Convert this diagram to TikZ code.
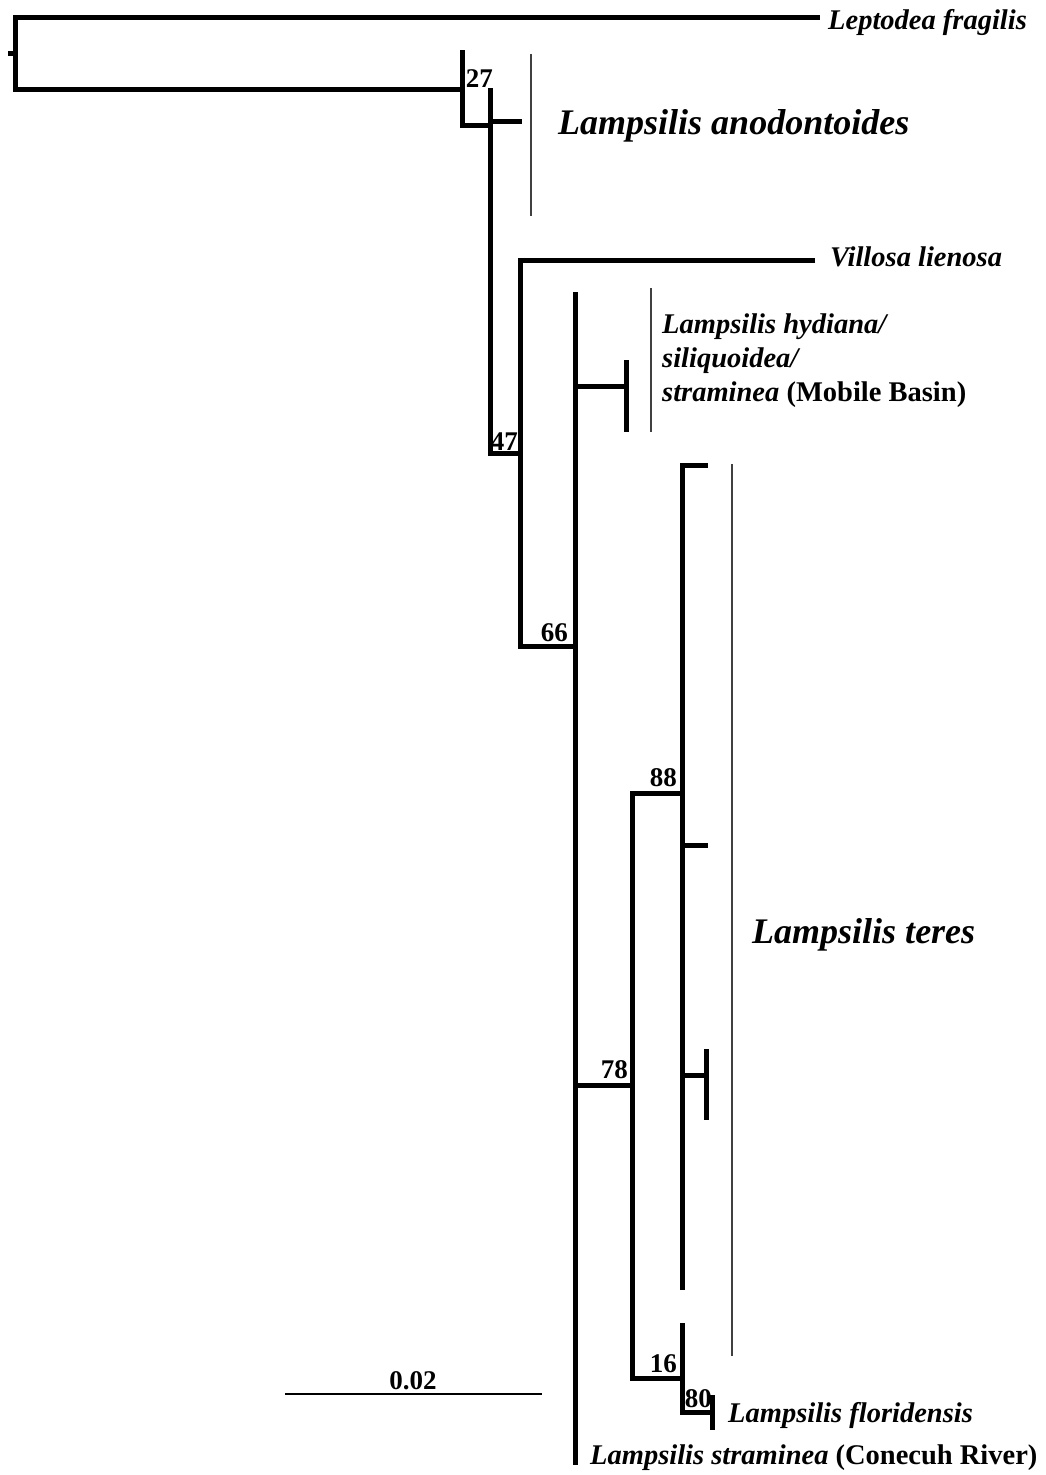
\documentclass[tikz,border=0pt]{standalone}
\usepackage{fontspec}
\setmainfont{Liberation Serif}
\usetikzlibrary{positioning}
\tikzset{
  br/.style={line width=5pt},
  clade/.style={line width=1.6pt, black!75},
  taxon/.style={anchor=west, inner sep=0pt, font=\fontsize{28.5}{34}\selectfont\bfseries},
  group/.style={anchor=west, inner sep=0pt, font=\fontsize{36}{40}\selectfont\bfseries\itshape},
  boot/.style={anchor=south east, inner sep=0pt, font=\fontsize{27}{30}\selectfont\bfseries},
}
\begin{document}
\begin{tikzpicture}[x=1pt,y=-1pt]
\useasboundingbox (0,0) rectangle (1045,1475);
% outgroup and base of tree
\draw[br] (8,53) -- (15,53);
\draw[br] (820,17) -| (15,89) -- (462,89);
\draw[br] (462,50) -- (462,125) -- (490,125);
\draw[br] (490,88) -- (490,453) -- (520,453);
\draw[br] (490,121) -- (522,121);
\draw[br] (815,260) -| (520,646) -- (575,646);
% main clade
\draw[br] (575,292) -- (575,1465);
\draw[br] (575,386) -- (626,386);
\draw[br] (626,360) -- (626,432);
\draw[br] (575,1085) -- (632,1085);
\draw[br] (682,793) -| (632,1378) -- (682,1378);
\draw[br] (708,465) -| (682,1290);
\draw[br] (682,845) -- (708,845);
\draw[br] (682,1075) -- (706,1075);
\draw[br] (706,1049) -- (706,1120);
\draw[br] (682,1323) -- (682,1412) -- (712,1412);
\draw[br] (712,1395) -- (712,1430);
% bootstrap values
\node[boot] (b27) at (493,88) {27};
\node[boot] (b47) at (518,451) {47};
\node[boot] (b66) at (568,642) {66};
\node[boot] (b88) at (677,787) {88};
\node[boot] (b78) at (628,1079) {78};
\node[boot] (b16) at (677,1373) {16};
\node[boot] (b80) at (712,1408) {80};
% taxa
\node[taxon] (lepto) at (828,22) {\itshape Leptodea fragilis};
\node[taxon] (vill) at (830,257) {\itshape Villosa lienosa};
\node[taxon, align=left] (mobile) at (662,361) {\itshape Lampsilis hydiana/\\ \itshape siliquoidea/\\ \itshape straminea \upshape(Mobile Basin)};
\node[taxon] (flor) at (728,1415) {\itshape Lampsilis floridensis};
\node[taxon] (conec) at (590,1458) {\itshape Lampsilis straminea \upshape(Conecuh River)};
% groups
\draw[clade] (531,54) -- (531,216);
\node[group] (anod) at (558,126) {Lampsilis anodontoides};
\draw[clade] (651,288) -- (651,432);
\draw[clade] (732,464) -- (732,1356);
\node[group] (teres) at (752,935) {Lampsilis teres};
% scale
\draw[line width=1.5pt] (285,1394) coordinate (s0) -- (542,1394) coordinate (s1);
\node[boot, anchor=south] (scale) at (413,1390) {0.02};
\end{tikzpicture}
\end{document}
